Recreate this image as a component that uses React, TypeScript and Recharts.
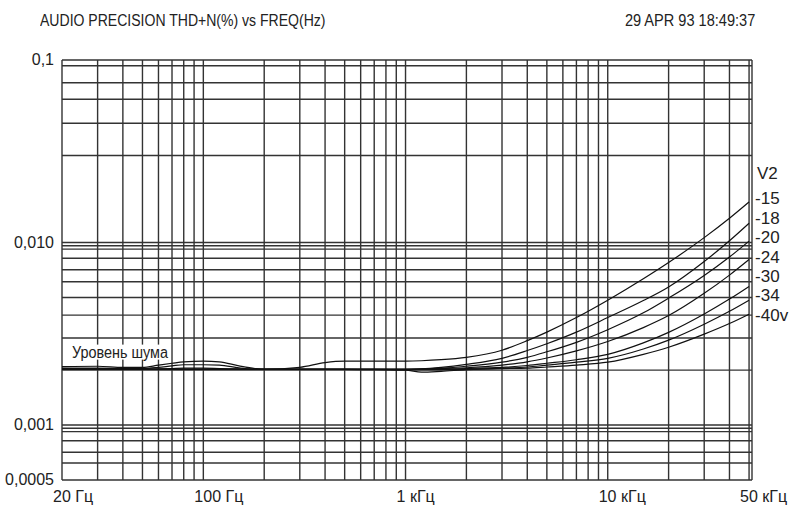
import React from "react";
import { LineChart, Line, XAxis, YAxis, CartesianGrid } from "recharts";

// measurement frequencies (Hz)
const FREQS = [
  20, 30, 40, 50, 60, 70, 80, 100, 120, 150, 180, 200, 300, 400, 500, 700, 1000, 1200, 1500, 2000,
  3000, 4000, 5000, 7000, 10000, 15000, 20000, 30000, 40000, 50000,
];

// THD+N (%) per V2 level
const V2_15 = [
  0.00209, 0.0021, 0.00207, 0.00207, 0.00213, 0.00218, 0.00222, 0.00224, 0.00222, 0.00211, 0.00204, 0.00202,
  0.00207, 0.0022, 0.00224, 0.00224, 0.00224, 0.00225, 0.00228, 0.00235, 0.00257, 0.0029, 0.00323, 0.00388,
  0.00483, 0.00633, 0.00777, 0.01064, 0.01359, 0.01669,
];
const V2_18 = [
  0.00205, 0.00205, 0.00204, 0.00204, 0.00207, 0.00211, 0.00214, 0.00214, 0.00213, 0.00206, 0.00202, 0.00202,
  0.00202, 0.00202, 0.00202, 0.00202, 0.00202, 0.00203, 0.00207, 0.00215, 0.00232, 0.00256, 0.00279, 0.00323,
  0.00388, 0.00481, 0.00571, 0.00787, 0.01022, 0.01275,
];
const V2_20 = [
  0.00204, 0.00203, 0.00203, 0.00202, 0.00203, 0.00204, 0.00205, 0.00205, 0.00204, 0.00203, 0.00202, 0.00202,
  0.00202, 0.00202, 0.00202, 0.00202, 0.00202, 0.00203, 0.00205, 0.0021, 0.00221, 0.00235, 0.00252, 0.00284,
  0.00333, 0.00412, 0.00496, 0.0066, 0.00833, 0.01018,
];
const V2_24 = [
  0.00203, 0.00203, 0.00202, 0.00202, 0.00202, 0.00202, 0.00202, 0.00202, 0.00202, 0.00202, 0.00202, 0.00202,
  0.00202, 0.00202, 0.00202, 0.00202, 0.00202, 0.00202, 0.00204, 0.00206, 0.00213, 0.00222, 0.00233, 0.00255,
  0.00287, 0.00342, 0.00398, 0.00527, 0.00663, 0.00807,
];
const V2_30 = [
  0.00202, 0.00202, 0.00202, 0.00202, 0.00202, 0.00202, 0.00202, 0.00202, 0.00202, 0.00202, 0.00202, 0.00202,
  0.00202, 0.00202, 0.00202, 0.00202, 0.00202, 0.00202, 0.00203, 0.00204, 0.00207, 0.00212, 0.00218, 0.00228,
  0.00244, 0.00282, 0.00322, 0.00406, 0.0049, 0.00575,
];
const V2_34 = [
  0.00202, 0.00202, 0.00202, 0.00202, 0.00202, 0.00202, 0.00202, 0.00202, 0.00202, 0.00202, 0.00202, 0.00202,
  0.00202, 0.00202, 0.00202, 0.00202, 0.00201, 0.00201, 0.00201, 0.00202, 0.00205, 0.00208, 0.00213, 0.00221,
  0.00232, 0.00261, 0.00292, 0.00357, 0.0042, 0.00483,
];
const V2_40 = [
  0.00202, 0.00202, 0.00202, 0.00202, 0.00202, 0.00202, 0.00202, 0.00202, 0.00202, 0.00202, 0.00202, 0.00202,
  0.00202, 0.00202, 0.00202, 0.00201, 0.002, 0.00195, 0.00197, 0.00201, 0.00204, 0.00205, 0.00208, 0.00213,
  0.00221, 0.00244, 0.00267, 0.00315, 0.0036, 0.00405,
];

const X_DOMAIN = [20, 51700];
const X_GRID = [
  20, 30, 40, 50, 60, 70, 80, 90, 100, 200, 300, 400, 500, 600, 700, 800, 900, 1000, 2000, 3000, 4000, 5000, 6000,
  7000, 8000, 9000, 10000, 20000, 30000, 40000, 50000, 51700,
];
const X_LABELS: Record<number, string> = { 20: "20 Гц", 100: "100 Гц", 1000: "1 кГц", 10000: "10 кГц", 50000: "50 кГц" };

const Y_DOMAIN = [0.0005, 0.1];
const Y_GRID = [
  0.1, 0.093, 0.075, 0.061, 0.045, 0.03, 0.01, 0.0096, 0.0092, 0.0082, 0.0071, 0.0061, 0.005, 0.004, 0.003, 0.002,
  0.001, 0.00096, 0.00092, 0.00082, 0.00071, 0.00062, 0.0005,
];
const Y_LABELS: Record<string, string> = { "0.1": "0,1", "0.01": "0,010", "0.001": "0,001", "0.0005": "0,0005" };

const SERIES = [
  { key: "v15", values: V2_15, label: "-15", dy: -4 },
  { key: "v18", values: V2_18, label: "-18", dy: -5 },
  { key: "v20", values: V2_20, label: "-20", dy: -4 },
  { key: "v24", values: V2_24, label: "-24", dy: -3 },
  { key: "v30", values: V2_30, label: "-30", dy: -10 },
  { key: "v34", values: V2_34, label: "-34", dy: -5 },
  { key: "v40", values: V2_40, label: "-40v", dy: 1 },
];

const data = FREQS.map((f, i) => {
  const row: Record<string, number> = { f };
  SERIES.forEach((s) => (row[s.key] = s.values[i]));
  return row;
});

const SANS = '"Liberation Sans", Arial, sans-serif';

function XTick({ x, y, payload }: any) {
  const t = X_LABELS[payload.value];
  if (!t) return null;
  return (
    <text x={x - 9} y={y + 14} fontSize={16} fontFamily={SANS} fill="#222" textAnchor="start">
      {t}
    </text>
  );
}

function YTick({ x, y, payload }: any) {
  const t = Y_LABELS[String(payload.value)];
  if (!t) return null;
  return (
    <text x={x} y={y + 5} fontSize={16} fontFamily={SANS} fill="#222" textAnchor="end">
      {t}
    </text>
  );
}

function endLabel(text: string, dy: number) {
  return (p: any) => {
    if (p.index !== FREQS.length - 1) return null;
    return (
      <text key={text} x={p.x + 6} y={p.y + dy + 6} fontSize={17} fontFamily={SANS} fill="#222">
        {text}
      </text>
    );
  };
}

function noiseLabel(p: any) {
  return (
    <g key="noise">
      <rect x={p.x + 8} y={p.y - 22} width={100} height={15} fill="#fff" />
      <text
        x={p.x + 10}
        y={p.y - 9}
        fontSize={16}
        fontFamily={SANS}
        fill="#222"
        textLength={96}
        lengthAdjust="spacingAndGlyphs"
      >
        Уровень шума
      </text>
    </g>
  );
}

const headStyle: React.CSSProperties = {
  position: "absolute",
  top: 12,
  fontFamily: SANS,
  fontSize: 16,
  color: "#222",
  whiteSpace: "nowrap",
};

export default function App() {
  return (
    <div style={{ position: "absolute", left: 0, top: 0, width: 794, height: 505, background: "#fff" }}>
      <div style={{ ...headStyle, left: 40, transform: "scaleX(0.877)", transformOrigin: "left" }}>
        AUDIO PRECISION THD+N(%) vs FREQ(Hz)
      </div>
      <div style={{ ...headStyle, right: 39, transform: "scaleX(0.91)", transformOrigin: "right" }}>
        29 APR 93 18:49:37
      </div>
      <div style={{ ...headStyle, left: 757, top: 164, fontSize: 17 }}>V2</div>
      <LineChart width={794} height={505} data={data} margin={{ top: 60, right: 42, bottom: 0, left: 0 }}>
        <CartesianGrid stroke="#333" strokeWidth={1.4} />
        <XAxis
          dataKey="f"
          type="number"
          scale="log"
          domain={X_DOMAIN}
          ticks={X_GRID}
          interval={0}
          height={25}
          axisLine={false}
          tickLine={false}
          tick={<XTick />}
          allowDataOverflow
        />
        <YAxis
          type="number"
          scale="log"
          domain={Y_DOMAIN}
          ticks={Y_GRID}
          interval={0}
          width={62}
          axisLine={false}
          tickLine={false}
          tick={<YTick />}
          allowDataOverflow
        />
        {SERIES.map((s, i) => (
          <Line
            key={s.key}
            dataKey={s.key}
            type="monotone"
            stroke="#111"
            strokeWidth={1.2}
            dot={false}
            isAnimationActive={false}
            label={
              i === 0
                ? (p: any) => (p.index === 0 ? noiseLabel(p) : endLabel(s.label, s.dy)(p))
                : endLabel(s.label, s.dy)
            }
          />
        ))}
      </LineChart>
    </div>
  );
}
